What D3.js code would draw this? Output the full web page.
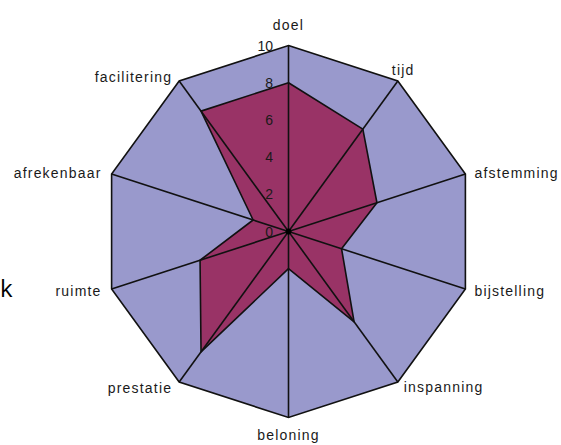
<!DOCTYPE html>
<html>
<head>
<meta charset="utf-8">
<script src="https://cdn.jsdelivr.net/npm/d3@7"></script>
<style>
  body { margin: 0; background: #fff; }
  svg { display: block; }
  .axis-label { font-family: "Liberation Sans", Arial, sans-serif; font-size: 14px; letter-spacing: 1.2px; fill: #1a1a1a; }
  .tick-label { font-family: "Liberation Sans", Arial, sans-serif; font-size: 14px; fill: #1a1a1a; }
</style>
</head>
<body>
<div id="chart"></div>
<script>
// Axis names, clockwise starting at the top.
var categories = ['doel', 'tijd', 'afstemming', 'bijstelling', 'inspanning',
                  'beloning', 'prestatie', 'ruimte', 'afrekenbaar', 'facilitering'];
var values = [8, 6.8, 5, 3, 6, 2, 8, 5, 2, 8];
var tickValues = [0, 2, 4, 6, 8, 10];
var maxValue = 10;

var width = 561, height = 445;
var cx = 288.5, cy = 231.5, radius = 186;

var svg = d3.select('#chart')
    .append('svg')
    .attr('width', width)
    .attr('height', height);

var r = d3.scaleLinear().domain([0, maxValue]).range([0, radius]);
var angle = d3.scaleLinear().domain([0, categories.length]).range([0, 2 * Math.PI]);

var g = svg.append('g')
    .attr('transform', 'translate(' + cx + ',' + cy + ')');

var radial = d3.lineRadial()
    .angle(function(d, i) { return angle(i); })
    .radius(function(d) { return r(d); })
    .curve(d3.curveLinearClosed);

// Point on an axis, lineRadial convention (0 = up, clockwise).
var point = function(i, v) {
  var a = angle(i);
  return { x: Math.sin(a) * r(v), y: -Math.cos(a) * r(v) };
};

// Outer decagon.
g.append('path')
  .attr('d', radial(categories.map(function() { return maxValue; })))
  .attr('fill', '#9999cc')
  .attr('stroke', '#111')
  .attr('stroke-width', 1.6);

// Data polygon.
g.append('path')
  .attr('d', radial(values))
  .attr('fill', '#993366')
  .attr('stroke', '#111')
  .attr('stroke-width', 1.6)
  .attr('stroke-linejoin', 'round');

// Spokes drawn over the data.
g.selectAll('line.spoke')
  .data(categories)
  .enter()
    .append('line')
      .attr('class', 'spoke')
      .attr('x1', 0)
      .attr('y1', 0)
      .attr('x2', function(d, i) { return point(i, maxValue).x; })
      .attr('y2', function(d, i) { return point(i, maxValue).y; })
      .attr('stroke', '#111')
      .attr('stroke-width', 1.6);

g.append('circle')
  .attr('r', 3)
  .attr('fill', '#000');

// Scale numbers along the top axis.
g.selectAll('text.tick-label')
  .data(tickValues)
  .enter()
    .append('text')
      .attr('class', 'tick-label')
      .attr('x', -15.5)
      .attr('y', function(d) { return -r(d); })
      .attr('dy', '0.36em')
      .attr('text-anchor', 'end')
      .text(function(d) { return d; });

// Axis names: offsets tuned per side of the decagon.
var labelPlace = function(i) {
  var p = point(i, maxValue);
  var a = angle(i) * 180 / Math.PI;
  if (a === 0) return { x: p.x, y: p.y - 16, anchor: 'middle' };
  if (a === 180) return { x: p.x, y: p.y + 22, anchor: 'middle' };
  if (a < 60) return { x: p.x - 6, y: p.y - 6, anchor: 'start' };
  if (a < 90) return { x: p.x + 9, y: p.y + 4, anchor: 'start' };
  if (a < 120) return { x: p.x + 9, y: p.y + 7, anchor: 'start' };
  if (a < 180) return { x: p.x + 6, y: p.y + 10, anchor: 'start' };
  if (a < 240) return { x: p.x - 7, y: p.y + 11, anchor: 'end' };
  if (a < 270) return { x: p.x - 10, y: p.y + 7, anchor: 'end' };
  if (a < 300) return { x: p.x - 10, y: p.y + 4, anchor: 'end' };
  return { x: p.x - 7, y: p.y + 1, anchor: 'end' };
};

g.selectAll('text.axis-label')
  .data(categories)
  .enter()
    .append('text')
      .attr('class', 'axis-label')
      .attr('x', function(d, i) { return labelPlace(i).x; })
      .attr('y', function(d, i) { return labelPlace(i).y; })
      .attr('text-anchor', function(d, i) { return labelPlace(i).anchor; })
      .text(function(d) { return d; });

// Stray letter at the left edge of the original picture.
svg.append('text')
  .attr('x', 0)
  .attr('y', 297)
  .attr('text-anchor', 'start')
  .attr('font-family', '"Open Sans", sans-serif')
  .attr('font-size', 24)
  .attr('fill', '#000')
  .text('k');
</script>
</body>
</html>
